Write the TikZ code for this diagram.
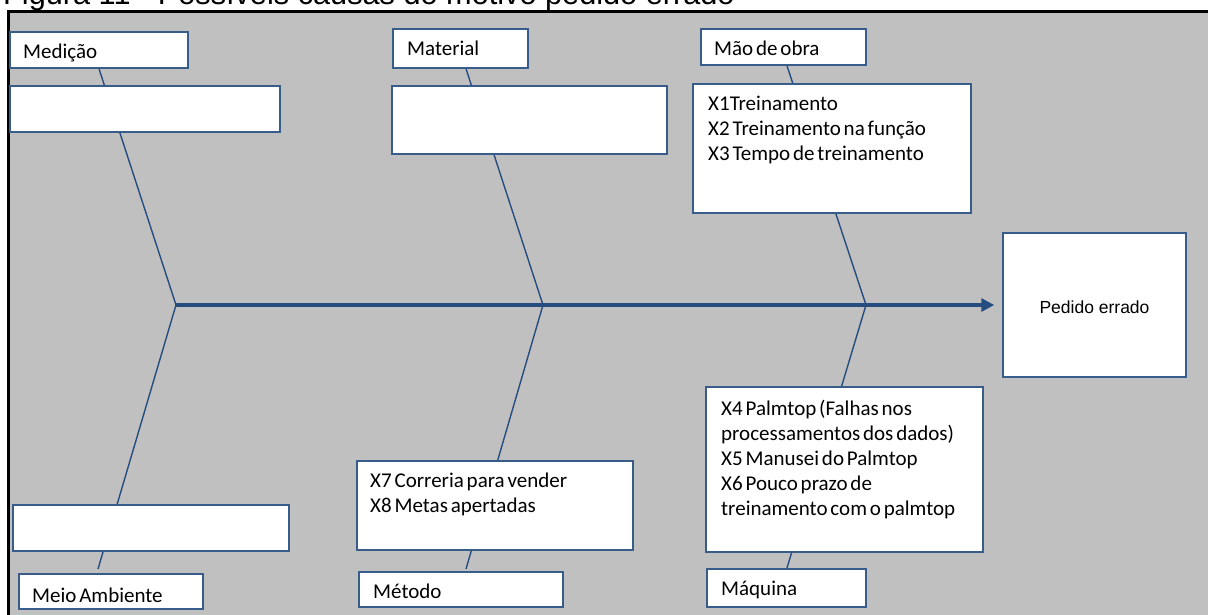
\documentclass[tikz,border=0pt]{standalone}
\usepackage{fontspec}
\setmainfont{Carlito}[WordSpace=0.6]
\newfontfamily\arialfont{Liberation Sans}
\usetikzlibrary{arrows.meta}
\definecolor{bg}{HTML}{C0C0C0}
\definecolor{boxline}{HTML}{385D8A}
\definecolor{bone}{HTML}{264D80}
\pgfdeclarelayer{back}
\pgfsetlayers{back,main}

\begin{document}
\begin{tikzpicture}[x=1pt,y=-1pt,
  box/.style 2 args={draw=boxline, line width=1.5pt, fill=white, inner sep=0pt,
    minimum width=#1pt, minimum height=#2pt},
  txt/.style={inner sep=0pt, anchor=base west, align=left,
    font=\fontsize{21}{25}\selectfont},
  bonel/.style={draw=bone, line width=1.4pt},
  spine/.style={draw=bone, line width=4pt, -{Triangle[length=13pt,width=13pt]}}]

\useasboundingbox (0,0) rectangle (1208,614);
\clip (0,0) rectangle (1208,614);

% caption, partly cut off by the page edge
\node[inner sep=0pt, anchor=base west, font=\arialfont\fontsize{30.7}{36}\selectfont]
  (title) at (3,4.5) {Figura 11 - Possíveis causas do motivo pedido errado};

% junction points on the spine
\coordinate (j1) at (176,305);
\coordinate (j2) at (543,305);
\coordinate (j3) at (866,305);
% free ends of the lower bones
\coordinate (e1) at (98,569);
\coordinate (e2) at (466,569);
\coordinate (e3) at (787,568);

% category labels
\node[box={178}{36}] (med)  at (99,50)     {};
\node[box={135}{39}] (mat)  at (460.5,48.5) {};
\node[box={165}{36}] (mao)  at (783.5,47)  {};
\node[box={184}{35}] (meio) at (111,591.5) {};
\node[box={204}{35}] (met)  at (461,589.5) {};
\node[box={159}{38}] (maq)  at (786.5,588) {};

% cause boxes
\node[box={270}{46}]  (medc)  at (145,109)     {};
\node[box={275}{68}]  (matc)  at (529.5,120)   {};
\node[box={278}{129}] (maoc)  at (832,148.5)   {};
\node[box={276}{46}]  (meioc) at (151,528)     {};
\node[box={276}{89}]  (metc)  at (495,505.5)   {};
\node[box={277}{165}] (maqc)  at (844.5,469.5) {};

% effect
\node[box={183}{144}] (pe) at (1094.5,305) {};

% texts (multi-line texts are placed by the baseline of their last line)
\node[txt] (tmed)  at (23,58)  {Medição};
\node[txt] (tmat)  at (407,55) {Material};
\node[txt] (tmao)  at (714,55) {Mão de obra};
\node[txt] (tmeio) at (32,602) {Meio Ambiente};
\node[txt] (tmet)  at (373,598) {Método};
\node[txt] (tmaq)  at (721,595) {Máquina};
\node[txt] (tmaoc) at (708,160) {X1Treinamento\\X2 Treinamento na função\\X3 Tempo de treinamento};
\node[txt] (tmetc) at (370,512) {X7 Correria para vender\\X8 Metas apertadas};
\node[txt] (tmaqc) at (721,515) {X4 Palmtop (Falhas nos\\processamentos dos dados)\\X5 Manusei do Palmtop\\X6 Pouco prazo de\\treinamento com o palmtop};
\node[inner sep=0pt, anchor=base, font=\arialfont\fontsize{17.5}{21}\selectfont]
  (tpe) at (1094.5,313) {Pedido errado};

\begin{pgfonlayer}{back}
  % grey panel with its black top and left edges
  \fill[bg] (8,11) rectangle (1220,630);
  \draw[black, line width=3pt] (8,630) -- (8,11) -- (1220,11);
  % bones
  \draw[bonel] (j1) -- (med.south);
  \draw[bonel] (j2) -- ([xshift=5.5pt]mat.south);
  \draw[bonel] (j3) -- ([xshift=3.5pt]mao.south);
  \draw[bonel] (j1) -- (e1);
  \draw[bonel] (j2) -- (e2);
  \draw[bonel] (j3) -- (e3);
  % spine
  \draw[spine, shorten >=8pt] (j1) -- (pe.west);
\end{pgfonlayer}
\end{tikzpicture}
\end{document}
